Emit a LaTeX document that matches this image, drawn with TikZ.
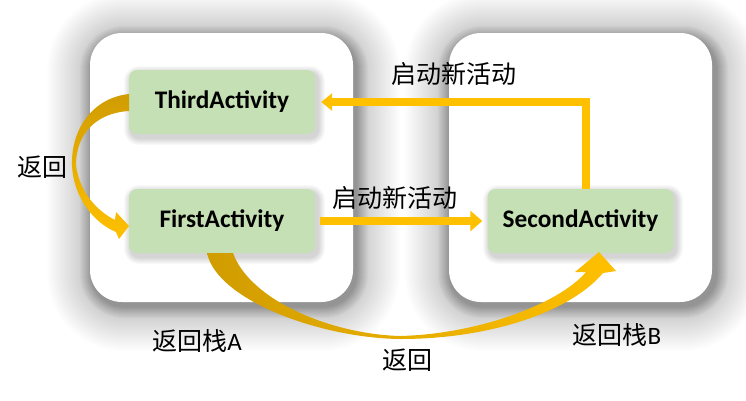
\documentclass[tikz,border=0pt]{standalone}
\usepackage{fontspec}
\setmainfont{Carlito}
\newfontfamily\cjk{Noto Sans CJK SC}
\usetikzlibrary{arrows.meta}
\definecolor{actgreen}{HTML}{C5E0B4}
\definecolor{arrowyellow}{HTML}{FFC000}
\definecolor{arrowgold}{HTML}{D09C00}
\newcommand\mysoftshadow[8]{%
  \foreach \k in {1,...,#6}{%
    \pgfmathsetmacro\dd{\k*#7}%
    \fill[black, opacity=#8, rounded corners=#5+\dd]
      (#1-\dd,#2-\dd) rectangle (#3+\dd,#4+\dd);
  }}
\begin{document}
\begin{tikzpicture}[x=1pt,y=-1pt,
  panel/.style={fill=white, draw=none, inner sep=0pt, rounded corners=32pt,
    minimum width=263pt, minimum height=269pt},
  act/.style={fill=actgreen, draw=none, rounded corners=8pt, minimum width=186pt, minimum height=64pt,
    font=\bfseries\fontsize{25.3}{29}\selectfont},
  lbl/.style={font=\cjk\fontsize{25}{29}\selectfont, inner sep=0pt},
  flow/.style={draw=arrowyellow, line width=8.5pt, -{Triangle[width=20pt,length=12pt]}},
  curvearrow/.style={draw=none}
]
\useasboundingbox (0,0) rectangle (746,400);
\fill[white] (0,0) rectangle (746,400);

% soft shadows of the stacks
\mysoftshadow{92}{38}{355}{306}{32pt}{30}{1.5}{0.006}
\mysoftshadow{450}{38}{715}{306}{32pt}{30}{1.5}{0.006}
\mysoftshadow{92}{38}{356}{306}{32pt}{12}{1}{0.018}
\mysoftshadow{450}{38}{716}{306}{32pt}{12}{1}{0.018}

% stacks
\node[panel] (stackA) at (221.5,167.5) {};
\node[panel] (stackB) at (580.5,167.5) {};

% soft shadows of the activities
\mysoftshadow{131}{73}{318}{138}{8pt}{7}{1}{0.025}
\mysoftshadow{131}{192}{318}{257}{8pt}{7}{1}{0.025}
\mysoftshadow{490}{192}{676}{257}{8pt}{7}{1}{0.025}

% activities
\node[act] (third)  at (222,102) {ThirdActivity};
\node[act] (first)  at (222,221) {FirstActivity};
\node[act] (second) at (580.5,221) {SecondActivity};

% straight connectors
\draw[flow, shorten <=5pt, shorten >=5pt] (first.east) -- (second.west);
\draw[flow, line width=8pt, -{Triangle[width=17pt,length=11pt]}, shorten >=6pt]
  ([xshift=5.5pt]second.north) |- (third.east);

% curved "back" arrow on the left
\shade[curvearrow, top color=arrowgold, bottom color=arrowyellow]
  (129,94) .. controls (92,98) and (71,130) .. (72,165)
  .. controls (73,195) and (92,222) .. (116,232)
  -- (119,239) -- (129,226) -- (116,212) -- (115,220)
  .. controls (95,210) and (79,190) .. (76,165)
  .. controls (76,135) and (95,113) .. (129,111) -- cycle;

% curved "back" arrow at the bottom
\shade[curvearrow, left color=arrowgold, right color=arrowyellow]
  (207,253) .. controls (217,300) and (320,338) .. (400,339)
  .. controls (490,339) and (570,312) .. (603,273)
  -- (616,271) -- (599,252) -- (575,272) -- (586,272)
  .. controls (560,303) and (480,334) .. (400,336)
  .. controls (330,334) and (250,300) .. (233,253) -- cycle;

% labels
\node[lbl] (l1) at (395,198) {启动新活动};
\node[lbl] (l2) at (454,74) {启动新活动};
\node[lbl] (l3) at (42,167) {返回};
\node[lbl] (l4) at (407,360) {返回};
\node[lbl] (l5) at (197,341) {返回栈{\rmfamily A}};
\node[lbl] (l6) at (617,335) {返回栈{\rmfamily B}};
\end{tikzpicture}
\end{document}
